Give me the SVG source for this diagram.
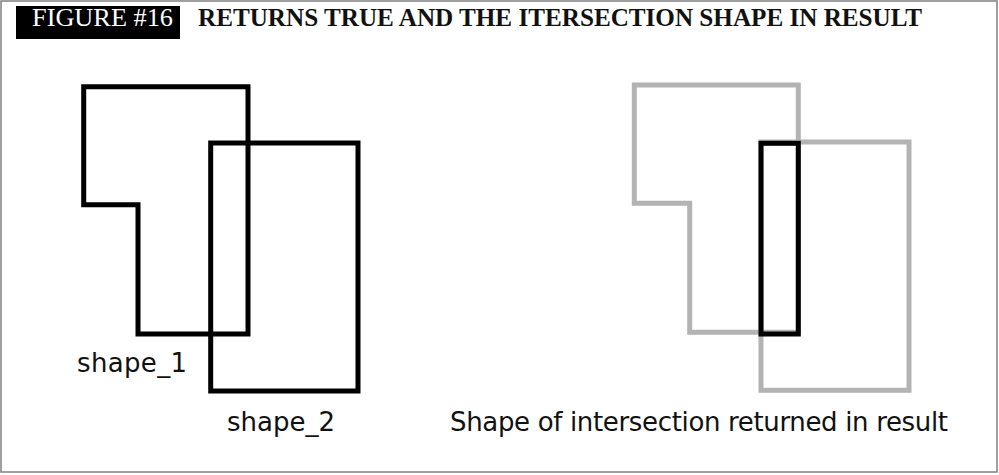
<svg xmlns="http://www.w3.org/2000/svg" width="999" height="475" viewBox="0 0 999 475">
  <style>
    .blk { fill: none; stroke: #000; stroke-width: 5; }
    .gry { fill: none; stroke: #b3b3b3; stroke-width: 5; }
    .lbl { font-family: "DejaVu Sans", sans-serif; font-size: 26px; fill: #111; }
    .ser { font-family: "Liberation Serif", serif; font-size: 25px; }
  </style>
  <rect x="0" y="0" width="999" height="475" fill="#fff"/>
  <rect x="1" y="1" width="996" height="471" fill="none" stroke="#808080" stroke-width="1.5"/>
  <g id="header">
    <rect x="16" y="6" width="164" height="33" fill="#000"/>
    <text class="ser" x="32" y="26" fill="#fff" textLength="141" lengthAdjust="spacingAndGlyphs">FIGURE #16</text>
    <text class="ser" x="198" y="26" fill="#111" font-weight="bold" textLength="724" lengthAdjust="spacingAndGlyphs">RETURNS TRUE AND THE ITERSECTION SHAPE IN RESULT</text>
  </g>
  <g id="shape_1">
    <polygon class="blk" points="83.7,86.7 248,86.7 248,334 138,334 138,204.7 83.7,204.7"/>
    <text class="lbl" x="77" y="372" textLength="110" lengthAdjust="spacing">shape_1</text>
  </g>
  <g id="shape_2">
    <rect class="blk" x="210.7" y="143" width="147.3" height="248"/>
    <text class="lbl" x="227" y="431" textLength="108" lengthAdjust="spacing">shape_2</text>
  </g>
  <g id="result">
    <polygon class="gry" points="634.3,85 798.3,85 798.3,332.3 689.7,332.3 689.7,203.3 634.3,203.3"/>
    <rect class="gry" x="761" y="142" width="148" height="248.3"/>
    <rect class="blk" x="761" y="143.3" width="37.3" height="190.7"/>
    <text class="lbl" x="450" y="431" textLength="498" lengthAdjust="spacing">Shape of intersection returned in result</text>
  </g>
</svg>
